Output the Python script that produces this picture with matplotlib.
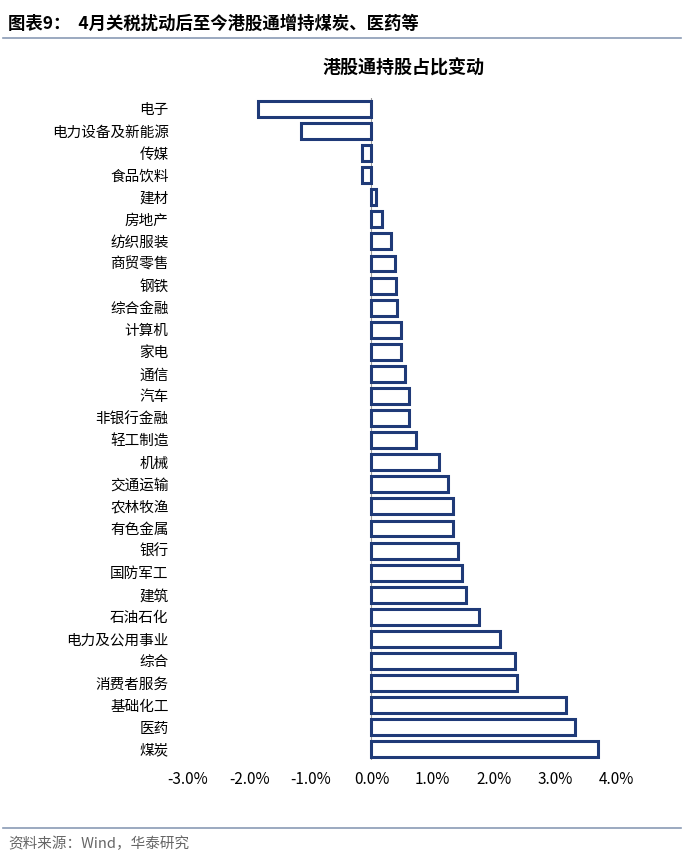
import matplotlib
matplotlib.use("Agg")
import matplotlib.pyplot as plt
from matplotlib.ticker import FuncFormatter

plt.rcParams['font.family'] = ['Noto Sans CJK SC']

categories = ["电子","电力设备及新能源","传媒","食品饮料","建材","房地产","纺织服装","商贸零售","钢铁","综合金融",
              "计算机","家电","通信","汽车","非银行金融","轻工制造","机械","交通运输","农林牧渔","有色金属",
              "银行","国防军工","建筑","石油石化","电力及公用事业","综合","消费者服务","基础化工","医药","煤炭"]
values = [-1.85,-1.15,-0.15,-0.15,0.08,0.17,0.32,0.38,0.40,0.42,
          0.48,0.48,0.55,0.61,0.62,0.73,1.10,1.25,1.33,1.33,
          1.42,1.48,1.55,1.76,2.10,2.35,2.38,3.18,3.33,3.70]
xticks = [-3,-2,-1,0,1,2,3,4]

fig = plt.figure(figsize=(6.84,8.66), dpi=100)
fig.text(0.012, 0.972, "图表9：  4月关税扰动后至今港股通增持煤炭、医药等", fontsize=12.5, fontweight='bold', va='center')
fig.add_artist(plt.Line2D([0.005,0.995],[0.956,0.956], color='#8a9bb5', lw=1.2))
fig.text(0.59, 0.921, "港股通持股占比变动", fontsize=13, fontweight='bold', ha='center', va='center')
fig.add_artist(plt.Line2D([0.005,0.995],[0.044,0.044], color='#8a9bb5', lw=1.2))
fig.text(0.012, 0.026, "资料来源：Wind，华泰研究", fontsize=10.5, color='#666666', va='center')

ax = fig.add_axes([0.275, 0.122, 0.6256, 0.765])
y = list(range(len(categories)))
ax.barh(y, values, height=0.72, color='white', edgecolor='#1F3A78', linewidth=2.2)
ax.set_ylim(len(categories)-0.5, -0.5)
ax.set_xlim(-3, 4)
ax.set_yticks(y)
ax.set_yticklabels(categories, fontsize=10.5)
ax.set_xticks(xticks)
ax.xaxis.set_major_formatter(FuncFormatter(lambda v, p: f"{v:.1f}%"))
ax.tick_params(axis='x', labelsize=11, length=0, pad=8)
ax.tick_params(axis='y', length=0, pad=14)
for s in ax.spines.values():
    s.set_visible(False)
ax.axvline(0, color='#999999', lw=0.8, zorder=0)
fig.savefig("out.png", dpi=100)
